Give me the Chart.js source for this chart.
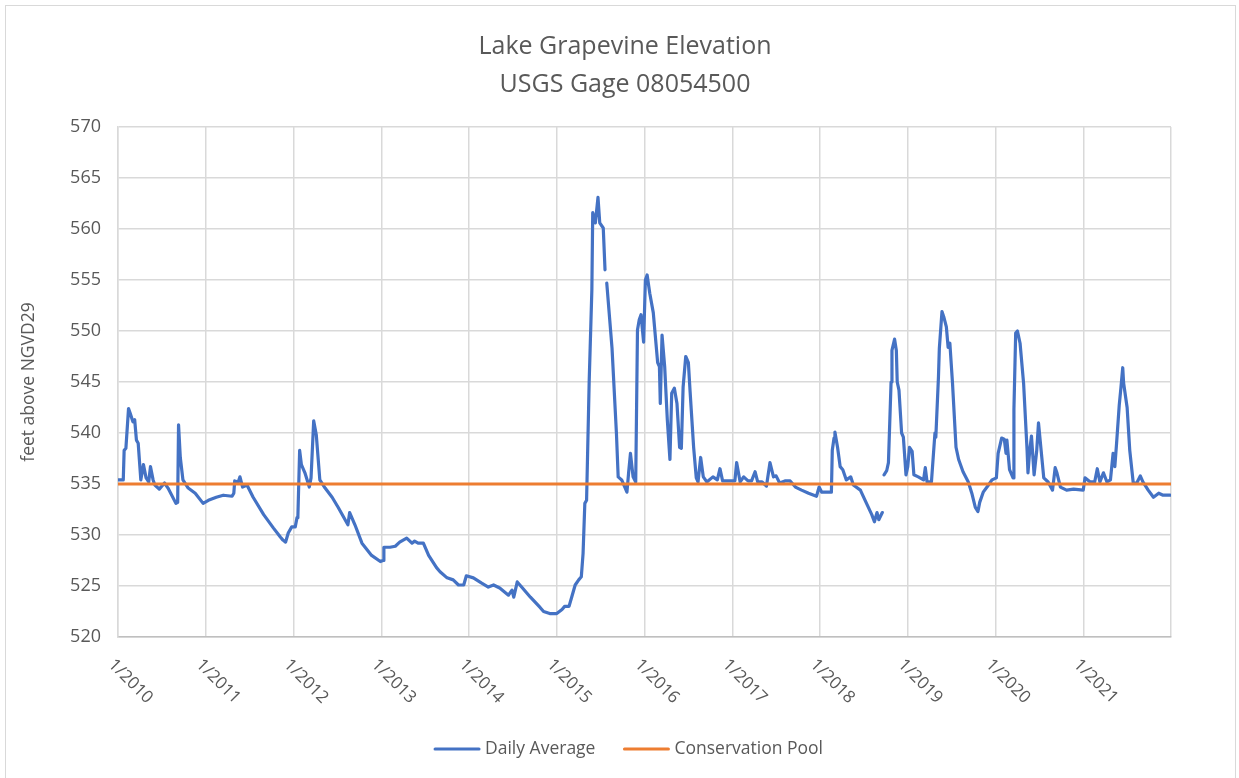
<!DOCTYPE html>
<html><head><meta charset="utf-8">
<script src="https://cdn.jsdelivr.net/npm/chart.js@4.4.1/dist/chart.umd.min.js"></script>
<style>html,body{margin:0;padding:0;background:#fff;}canvas{display:block;}</style>
</head><body>
<canvas id="c" width="1239" height="778" style="width:1239px;height:778px"></canvas>
<script>
const titleLines = ["Lake Grapevine Elevation", "USGS Gage 08054500"];
const yAxisTitle = "feet above NGVD29";
const seriesNames = ["Daily Average", "Conservation Pool"];
const xTickYears = [2010, 2011, 2012, 2013, 2014, 2015, 2016, 2017, 2018, 2019, 2020, 2021];
const xTickLabels = ["1/2010", "1/2011", "1/2012", "1/2013", "1/2014", "1/2015", "1/2016", "1/2017", "1/2018", "1/2019", "1/2020", "1/2021"];
const yMin = 520, yMax = 570, yStep = 5;

// decimal-year dates of the daily average trace (null value = missing data)
const dates = [
 2010.00,2010.06,2010.07,2010.09,2010.12,2010.14,2010.17,2010.19,2010.21,2010.23,2010.26,2010.29,2010.32,2010.35,2010.37,2010.40,2010.42,2010.47,2010.53,2010.57,2010.66,2010.68,2010.69,2010.71,2010.74,2010.80,2010.88,2010.97,
 2011.03,2011.12,2011.20,2011.30,2011.32,2011.33,2011.37,2011.39,2011.42,2011.47,2011.54,2011.66,2011.77,2011.85,2011.88,2011.91,2011.94,2011.98,
 2012.02,2012.04,2012.05,2012.07,2012.09,2012.13,2012.18,2012.20,2012.23,2012.26,2012.30,2012.36,2012.44,2012.51,2012.62,2012.64,2012.70,2012.78,2012.89,2012.99,
 2013.02,2013.03,2013.10,2013.16,2013.21,2013.29,2013.35,2013.38,2013.42,2013.48,2013.54,2013.63,2013.67,2013.75,2013.82,2013.88,2013.94,2013.97,
 2014.05,2014.14,2014.22,2014.28,2014.35,2014.45,2014.49,2014.51,2014.55,2014.60,2014.70,2014.81,2014.85,2014.92,
 2015.00,2015.06,2015.09,2015.14,2015.17,2015.21,2015.25,2015.28,2015.30,2015.32,2015.34,2015.37,2015.38,2015.40,2015.41,2015.44,2015.47,2015.49,2015.53,2015.55,2015.56,2015.57,2015.63,2015.68,2015.70,2015.74,2015.80,2015.82,2015.84,2015.87,2015.90,2015.92,2015.94,2015.96,2015.99,
 2016.01,2016.03,2016.06,2016.10,2016.15,2016.17,2016.18,2016.20,2016.23,2016.26,2016.29,2016.31,2016.34,2016.37,2016.40,2016.42,2016.44,2016.47,2016.50,2016.52,2016.56,2016.59,2016.61,2016.64,2016.67,2016.71,2016.78,2016.83,2016.86,2016.89,
 2017.03,2017.05,2017.09,2017.13,2017.18,2017.22,2017.26,2017.29,2017.34,2017.39,2017.43,2017.47,2017.50,2017.54,2017.60,2017.66,2017.72,2017.79,2017.87,2017.96,2017.99,
 2018.02,2018.13,2018.14,2018.16,2018.17,2018.20,2018.23,2018.26,2018.30,2018.35,2018.38,2018.46,2018.53,2018.59,2018.62,2018.65,2018.67,2018.71,2018.72,2018.73,2018.76,2018.78,2018.81,2018.82,2018.85,2018.87,2018.88,2018.90,2018.93,2018.95,2018.98,
 2019.00,2019.02,2019.05,2019.07,2019.12,2019.18,2019.20,2019.22,2019.27,2019.31,2019.32,2019.35,2019.36,2019.39,2019.41,2019.44,2019.46,2019.48,2019.51,2019.55,2019.58,2019.63,2019.69,2019.73,2019.77,2019.80,2019.82,2019.86,2019.92,2019.96,
 2020.01,2020.03,2020.07,2020.10,2020.12,2020.13,2020.16,2020.20,2020.21,2020.23,2020.25,2020.28,2020.32,2020.36,2020.37,2020.39,2020.41,2020.44,2020.47,2020.49,2020.52,2020.55,2020.60,2020.65,2020.68,2020.70,2020.74,2020.81,2020.89,
 2021.00,2021.02,2021.08,2021.13,2021.16,2021.19,2021.23,2021.27,2021.31,2021.34,2021.36,2021.38,2021.41,2021.43,2021.45,2021.46,2021.50,2021.53,2021.57,2021.61,2021.65,2021.68,2021.74,2021.80,2021.86,2021.91,2021.99
];
const dailyAverage = [
 535.4,535.4,538.3,538.5,542.4,541.9,541.1,541.3,539.3,539.0,535.4,536.9,535.6,535.2,536.7,535.4,534.9,534.5,535.1,534.6,533.1,533.2,540.8,537.6,535.4,534.6,534.1,533.1,
 533.4,533.7,533.9,533.8,534.1,535.3,535.2,535.7,534.7,534.9,533.7,532.0,530.7,529.8,529.5,529.3,530.2,530.8,
 530.8,531.7,531.8,538.3,536.9,536.1,534.7,535.6,541.2,539.8,535.4,534.6,533.7,532.7,531.0,532.2,531.0,529.2,528.0,527.4,
 527.5,528.8,528.8,528.9,529.3,529.7,529.2,529.4,529.2,529.2,528.0,526.8,526.4,525.8,525.6,525.1,525.1,526.0,
 525.8,525.3,524.9,525.1,524.8,524.1,524.6,523.9,525.4,524.9,523.9,522.9,522.5,522.3,
 522.3,522.7,523.0,523.0,523.9,525.1,525.6,525.9,528.2,533.1,533.4,545.2,548.1,554.0,561.6,560.6,563.1,560.6,560.1,556.0,null,554.7,548.3,540.0,535.7,535.4,534.2,536.2,538.0,535.7,535.2,550.1,551.1,551.6,548.9,
 555.0,555.5,553.7,551.8,546.9,546.5,542.9,549.6,546.5,541.3,537.4,543.9,544.4,542.9,538.6,538.5,544.5,547.5,546.9,544.0,538.6,535.6,535.2,537.6,535.7,535.2,535.7,535.4,536.5,535.3,
 535.3,537.1,535.2,535.7,535.3,535.3,536.2,535.2,535.2,534.8,537.1,535.7,535.8,535.1,535.3,535.3,534.7,534.4,534.1,533.8,534.7,
 534.2,534.2,538.3,539.5,540.1,538.6,536.7,536.4,535.4,535.7,534.9,534.4,533.1,532.0,531.3,532.2,531.5,532.2,null,535.9,536.3,537.1,545.0,548.1,549.2,548.1,545.0,544.2,540.0,539.6,535.9,
 536.7,538.6,538.2,535.9,535.7,535.4,536.6,535.2,535.2,540.0,539.6,545.5,548.3,551.9,551.4,550.4,548.4,548.8,544.9,538.6,537.4,536.2,535.2,534.1,532.7,532.3,533.2,534.2,534.9,535.4,
 535.6,538.0,539.5,539.4,538.0,539.3,536.4,535.6,542.3,549.8,550.0,548.8,544.9,538.3,536.1,538.3,539.7,535.9,538.3,541.0,538.3,535.6,535.2,534.4,536.6,536.1,534.7,534.4,534.5,
 534.4,535.6,535.2,535.2,536.5,535.2,536.1,535.2,535.4,538.0,536.7,539.0,542.7,544.5,546.4,544.9,542.5,538.3,535.1,535.1,535.8,535.2,534.4,533.7,534.1,533.9,533.9
];
const poolDates = [2010, 2022];
const poolLevel = [535, 535];

const TEXT = '#595959';
const FONT = '"Open Sans", "Liberation Sans", sans-serif';

const decor = {
  id: 'decor',
  beforeDraw(chart) {
    const ctx = chart.ctx;
    ctx.save();
    ctx.fillStyle = '#ffffff';
    ctx.fillRect(0, 0, chart.width, chart.height);
    ctx.strokeStyle = '#d9d9d9';
    ctx.lineWidth = 1;
    ctx.strokeRect(5.5, 5.5, 1230, 775);
    ctx.restore();
  },
  afterDraw(chart) {
    const ctx = chart.ctx;
    ctx.save();
    ctx.fillStyle = TEXT;
    // title
    ctx.font = '400 25px ' + FONT;
    ctx.textAlign = 'center';
    ctx.textBaseline = 'middle';
    ctx.fillText(titleLines[0], 625, 47);
    ctx.fillText(titleLines[1], 625, 85);
    // rotated x tick labels
    const xs = chart.scales.x;
    ctx.font = '400 17px ' + FONT;
    ctx.textAlign = 'left';
    xTickYears.forEach((yr, i) => {
      const px = xs.getPixelForValue(yr);
      ctx.save();
      ctx.translate(px - 7, 662);
      ctx.rotate(Math.PI / 4);
      ctx.fillText(xTickLabels[i], 0, 0);
      ctx.restore();
    });
    // legend
    const ds = chart.data.datasets;
    const order = [0, 1];
    ctx.font = '400 17.5px ' + FONT;
    const lineW = 44, gapText = 6, gapItem = 29;
    const widths = order.map(i => lineW + gapText + ctx.measureText(ds[i].label).width);
    const total = widths.reduce((a, b) => a + b, 0) + gapItem * (order.length - 1);
    let x = 629 - total / 2;
    const ly = 749;
    order.forEach((i, k) => {
      ctx.strokeStyle = ds[i].borderColor;
      ctx.lineWidth = 3;
      ctx.lineCap = 'round';
      ctx.beginPath();
      ctx.moveTo(x, ly); ctx.lineTo(x + lineW, ly);
      ctx.stroke();
      ctx.fillStyle = TEXT;
      ctx.textBaseline = 'middle';
      ctx.fillText(ds[i].label, x + lineW + gapText, ly);
      x += widths[k] + gapItem;
    });
    ctx.restore();
  }
};

function build() {
  new Chart(document.getElementById('c'), {
    type: 'line',
    data: {
      datasets: [
        {
          label: seriesNames[0],
          data: dates.map((d, i) => ({ x: d, y: dailyAverage[i] })),
          borderColor: '#4472C4',
          borderWidth: 3.2,
          pointRadius: 0,
          tension: 0,
          spanGaps: false,
          borderJoinStyle: 'round',
          borderCapStyle: 'round',
          order: 2
        },
        {
          label: seriesNames[1],
          data: poolDates.map((d, i) => ({ x: d, y: poolLevel[i] })),
          borderColor: '#ED7D31',
          borderWidth: 3,
          pointRadius: 0,
          tension: 0,
          order: 1
        }
      ]
    },
    options: {
      responsive: false,
      animation: false,
      devicePixelRatio: 1,
      layout: { padding: { left: 0, top: 127, right: 68, bottom: 0 } },
      plugins: { legend: { display: false }, title: { display: false }, tooltip: { enabled: false } },
      scales: {
        x: {
          type: 'linear',
          min: 2010, max: 2022,
          ticks: { display: false, stepSize: 1 },
          grid: { color: '#d9d9d9', lineWidth: 1.5, drawTicks: false },
          border: { color: '#bfbfbf', width: 1.5 },
          afterFit(s) { s.height = 141; }
        },
        y: {
          min: yMin, max: yMax,
          ticks: { stepSize: yStep, color: TEXT, font: { family: FONT, size: 18 }, padding: 17 },
          grid: { color: '#d9d9d9', lineWidth: 1.5, drawTicks: false },
          border: { color: '#d9d9d9', width: 1.5 },
          title: { display: true, text: yAxisTitle, color: TEXT, font: { family: FONT, size: 17.5 }, padding: { top: 19, bottom: 0 } },
          afterFit(s) { s.width = 118; }
        }
      }
    },
    plugins: [decor]
  });
}
if (document.fonts && document.fonts.load) {
  Promise.all([document.fonts.load('16px "Open Sans"'), document.fonts.load('25px "Open Sans"')]).then(build, build);
} else build();
</script>
</body></html>
